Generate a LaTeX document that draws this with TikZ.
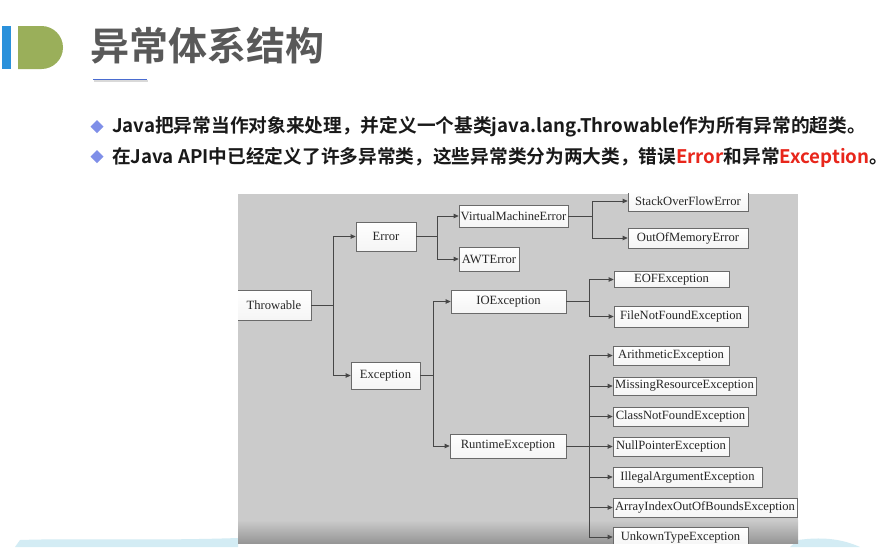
\documentclass[tikz,border=0pt]{standalone}
\usepackage{fontspec}
\setmainfont{Liberation Serif}
\newfontfamily\cjk{Noto Sans CJK SC}[BoldFont={Noto Sans CJK SC Bold}]
\usetikzlibrary{arrows.meta}
\definecolor{panelgray}{HTML}{CBCBCB}
\definecolor{boxline}{HTML}{6A6A6A}
\definecolor{linkgray}{HTML}{474747}
\definecolor{barblue}{HTML}{2A91DB}
\definecolor{barGreen}{HTML}{9AAF5A}
\definecolor{titlegray}{HTML}{595959}
\definecolor{ulblue}{HTML}{4A6CD0}
\definecolor{bulletblue}{HTML}{7F8FE8}
\definecolor{hlred}{HTML}{E8261B}
\definecolor{wave}{HTML}{D3ECF4}
\tikzset{
  bx/.style={draw=boxline, line width=0.7pt, top color=white, bottom color=gray!8,
    inner sep=0pt, font=\fontsize{12.6}{13}\selectfont, text=black!85, anchor=center},
  link/.style={draw=linkgray, line width=0.8pt},
  arr/.style={link, -{Triangle[length=5pt,width=4.5pt]}},
  bullettext/.style={anchor=west, inner sep=0pt, font=\cjk\bfseries\fontsize{18.7}{21}\selectfont, text=black!90},
}
\begin{document}
\begin{tikzpicture}[x=1pt,y=-1pt]
\useasboundingbox (0,0) rectangle (891,547);
\fill[white] (0,0) rectangle (891,547);
% header marks
\fill[barblue] (2,26) rectangle (11,69);
\fill[barGreen] (18,26) -- (41.5,26) arc[start angle=-90, end angle=90, radius=21.5] -- (18,69) -- cycle;
\node[anchor=west, inner sep=0pt, text=titlegray, font=\cjk\bfseries\fontsize{39}{42}\selectfont] (title) at (90,46) {异常体系结构};
\draw[gray!30, line width=1.5pt] (94,81) -- (148,81);
\draw[ulblue, line width=1.6pt] (93,79.5) -- (147,79.5);
% bullets
\fill[bulletblue] (97,120) -- (103.5,126.5) -- (97,133) -- (90.5,126.5) -- cycle;
\fill[bulletblue] (97,150) -- (103.5,156.5) -- (97,163) -- (90.5,156.5) -- cycle;
\node[bullettext] (b1) at (112,127) {Java把异常当作对象来处理，并定义一个基类java.lang.Throwable作为所有异常的超类。};
\node[bullettext] (b2) at (112,157) {在Java API中已经定义了许多异常类，这些异常类分为两大类，错误\textcolor{hlred}{Error}和异常\textcolor{hlred}{Exception}。};
% bottom wave
\fill[wave] (15,547) -- (20,540) .. controls (80,538) and (150,541) .. (238,538) -- (238,547) -- cycle;
\fill[wave] (790,547) -- (798,540) .. controls (820,537) and (840,538) .. (860,547) -- cycle;
% panel
\fill[panelgray] (238,193.5) rectangle (798,543);
\shade[top color=panelgray, bottom color=gray!70!panelgray] (238,520) rectangle (798,543);
\begin{scope}
\clip (238,193.5) rectangle (798,543);
\node[bx, minimum width=74pt, minimum height=30pt] (thr) at (274,305) {Throwable};
\node[bx, minimum width=60pt, minimum height=29pt] (err) at (386,236.5) {Error};
\node[bx, minimum width=109pt, minimum height=22pt] (vme) at (513.5,216) {VirtualMachineError};
\node[bx, minimum width=60pt, minimum height=24pt] (awt) at (489,259) {AWTError};
\node[bx, minimum width=120pt, minimum height=20pt] (soe) at (688,201) {StackOverFlowError};
\node[bx, minimum width=120pt, minimum height=20pt] (oom) at (688,238) {OutOfMemoryError};
\node[bx, minimum width=115pt, minimum height=23pt] (ioe) at (508.5,301.5) {IOException};
\node[bx, minimum width=115pt, minimum height=16pt] (eof) at (671.5,279.5) {EOFException};
\node[bx, minimum width=134pt, minimum height=21pt] (fnf) at (681,316.5) {FileNotFoundException};
\node[bx, minimum width=69pt, minimum height=27pt] (exc) at (385.5,375.5) {Exception};
\node[bx, minimum width=116pt, minimum height=24pt] (rte) at (508,446) {RuntimeException};
\node[bx, minimum width=116pt, minimum height=19pt] (ari) at (671,355.5) {ArithmeticException};
\node[bx, minimum width=143pt, minimum height=18pt] (mis) at (684.5,386) {MissingResourceException};
\node[bx, minimum width=135pt, minimum height=19pt] (cnf) at (680.5,416.5) {ClassNotFoundException};
\node[bx, minimum width=116pt, minimum height=19pt] (npe) at (671,446.5) {NullPointerException};
\node[bx, minimum width=149pt, minimum height=20pt] (iae) at (687.5,477) {IllegalArgumentException};
\node[bx, minimum width=184pt, minimum height=19pt] (aio) at (705,507.5) {ArrayIndexOutOfBoundsException};
\node[bx, minimum width=135pt, minimum height=19pt] (ute) at (680.5,537) {UnkownTypeException};
% junctions
\path (thr.east) ++(22,0) coordinate (j1);
\path (err.east) ++(21,0) coordinate (j2);
\path (vme.east) ++(24,0) coordinate (j3);
\path (exc.east) ++(13,0) coordinate (j4);
\path (ioe.east) ++(23,0) coordinate (j5);
\path (rte.east) ++(23,0) coordinate (j6);
% connectors
\draw[link] (thr.east) -- (j1);
\draw[arr] (j1) |- (err.west);
\draw[arr] (j1) |- (exc.west);
\draw[link] (err.east) -- (j2);
\draw[arr] (j2) |- (vme.west);
\draw[arr] (j2) |- (awt.west);
\draw[link] (vme.east) -- (j3);
\draw[arr] (j3) |- (soe.west);
\draw[arr] (j3) |- (oom.west);
\draw[link] (exc.east) -- (j4);
\draw[arr] (j4) |- (ioe.west);
\draw[arr] (j4) |- (rte.west);
\draw[link] (ioe.east) -- (j5);
\draw[arr] (j5) |- (eof.west);
\draw[arr] (j5) |- (fnf.west);
\draw[link] (rte.east) -- (j6);
\draw[arr] (j6) |- (ari.west);
\draw[arr] (j6) |- (mis.west);
\draw[arr] (j6) |- (cnf.west);
\draw[arr] (j6) |- (npe.west);
\draw[arr] (j6) |- (iae.west);
\draw[arr] (j6) |- (aio.west);
\draw[arr] (j6) |- (ute.west);
\end{scope}
\end{tikzpicture}
\end{document}
